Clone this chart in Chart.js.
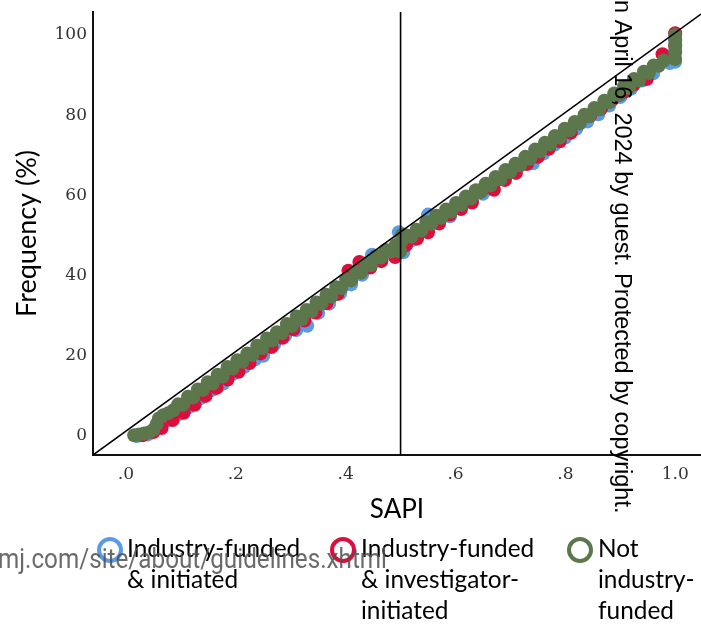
<!DOCTYPE html>
<html lang="en">
<head>
<meta charset="UTF-8">
<title>SAPI frequency</title>
<script src="https://cdn.jsdelivr.net/npm/chart.js"></script>
<style>
  html, body { margin: 0; padding: 0; background: #fff; }
  #wrap { position: relative; width: 701px; height: 624px; }
</style>
</head>
<body>
<div id="wrap"><canvas id="sapiChart"></canvas></div>

<script>
// series: industry-funded & initiated
const sapiIndustry = [0.02, 0.04, 0.06, 0.075, 0.095, 0.115, 0.135, 0.155, 0.177, 0.195, 0.215, 0.235, 0.25, 0.27, 0.29, 0.31, 0.33, 0.35, 0.37, 0.39, 0.41, 0.43, 0.448, 0.47, 0.497, 0.505, 0.52, 0.535, 0.55, 0.57, 0.59, 0.61, 0.63, 0.65, 0.668, 0.69, 0.71, 0.741, 0.76, 0.78, 0.8, 0.82, 0.84, 0.86, 0.88, 0.9, 0.92, 0.94, 0.96, 0.99, 1.0, 1.0, 1.0];
const freqIndustry = [0.0, 0.4, 2.4, 3.8, 5.4, 7.2, 9.4, 11.4, 13.1, 15.5, 17.2, 19.1, 20.0, 22.8, 25.0, 26.4, 27.5, 30.7, 33.0, 35.6, 37.8, 40.2, 45.2, 45.6, 50.8, 45.8, 48.8, 50.8, 55.2, 53.2, 54.8, 57.0, 58.7, 60.4, 61.8, 64.2, 66.0, 68.0, 70.4, 72.6, 74.4, 76.6, 78.4, 80.2, 82.4, 84.5, 86.6, 88.6, 90.4, 93.0, 93.3, 96.0, 98.6];

// series: industry-funded & investigator-initiated
const sapiInvestigator = [0.03, 0.05, 0.065, 0.085, 0.105, 0.125, 0.145, 0.165, 0.185, 0.205, 0.225, 0.245, 0.265, 0.285, 0.305, 0.325, 0.345, 0.365, 0.385, 0.405, 0.425, 0.445, 0.465, 0.49, 0.51, 0.53, 0.55, 0.57, 0.59, 0.61, 0.63, 0.65, 0.67, 0.69, 0.71, 0.73, 0.75, 0.77, 0.79, 0.81, 0.826, 0.845, 0.865, 0.885, 0.905, 0.925, 0.948, 0.977, 1.0, 1.0];
const freqInvestigator = [0.2, 1.0, 2.0, 4.0, 5.8, 7.8, 10.0, 12.0, 14.1, 16.0, 18.2, 20.6, 22.2, 24.5, 26.6, 28.8, 30.8, 33.1, 35.4, 41.2, 43.4, 42.0, 43.6, 44.6, 47.6, 49.2, 50.8, 53.0, 55.2, 56.6, 58.2, 61.6, 61.4, 63.8, 65.6, 67.8, 69.6, 71.6, 73.5, 75.6, 78.2, 79.8, 81.6, 83.8, 85.6, 87.7, 89.0, 95.2, 100.4, 97.5];

// series: not industry-funded
const sapiNotFunded = [0.015, 0.024, 0.033, 0.042, 0.05, 0.056, 0.06, 0.068, 0.077, 0.086, 0.095, 0.104, 0.113, 0.122, 0.131, 0.14, 0.149, 0.158, 0.167, 0.176, 0.185, 0.194, 0.203, 0.212, 0.221, 0.23, 0.239, 0.248, 0.257, 0.266, 0.275, 0.284, 0.293, 0.302, 0.311, 0.32, 0.329, 0.338, 0.347, 0.356, 0.365, 0.374, 0.383, 0.392, 0.401, 0.41, 0.419, 0.428, 0.437, 0.446, 0.455, 0.464, 0.473, 0.482, 0.491, 0.499, 0.501, 0.503, 0.511, 0.52, 0.529, 0.538, 0.547, 0.556, 0.565, 0.574, 0.583, 0.592, 0.601, 0.61, 0.619, 0.628, 0.637, 0.646, 0.655, 0.664, 0.673, 0.682, 0.691, 0.7, 0.709, 0.718, 0.727, 0.736, 0.745, 0.754, 0.763, 0.772, 0.781, 0.79, 0.799, 0.808, 0.817, 0.826, 0.835, 0.844, 0.853, 0.862, 0.871, 0.88, 0.889, 0.898, 0.907, 0.916, 0.925, 0.934, 0.943, 0.952, 0.961, 0.97, 0.979, 1.0, 1.0, 1.0, 1.0, 1.0];
const freqNotFunded = [0.2, 0.4, 0.6, 0.9, 1.6, 3.0, 4.4, 5.2, 5.7, 6.4, 7.9, 7.8, 9.8, 9.6, 11.6, 11.5, 13.4, 13.1, 15.3, 14.8, 17.2, 16.8, 18.9, 18.5, 20.6, 20.2, 22.5, 21.9, 24.3, 23.8, 25.9, 25.7, 27.9, 27.4, 29.8, 29.1, 31.4, 31.1, 33.3, 33.0, 35.2, 34.8, 37.1, 36.9, 39.1, 38.8, 41.0, 40.7, 43.0, 42.6, 44.8, 44.5, 46.4, 46.0, 47.6, 46.0, 48.4, 50.2, 50.0, 49.7, 51.4, 51.2, 53.3, 52.9, 54.9, 54.4, 56.5, 55.9, 58.1, 57.6, 59.7, 59.2, 61.3, 60.8, 62.9, 62.5, 64.6, 64.0, 66.3, 65.8, 67.9, 67.5, 69.6, 69.1, 71.4, 70.9, 73.1, 72.7, 74.8, 74.4, 76.6, 76.2, 78.3, 77.9, 80.1, 79.7, 81.8, 81.4, 83.6, 83.2, 85.4, 85.0, 87.2, 86.8, 89.0, 88.6, 90.8, 90.5, 92.4, 92.3, 93.6, 94.0, 95.6, 97.2, 98.8, 100.0];

// identity line (corner to corner) and the SAPI = 0.5 cut-off
const diagX = [-0.06, 1.047];
const diagY = [-4.73, 105.2];
const cutX = [0.5, 0.5];
const cutY = [-10, 110];

// axes
const xTicks = [0, 0.2, 0.4, 0.6, 0.8, 1.0];
const xTickLabels = ['.0', '.2', '.4', '.6', '.8', '1.0'];
const yTicks = [0, 20, 40, 60, 80, 100];

const seriesNames = [
  ['Industry-funded', '& initiated'],
  ['Industry-funded', '& investigator-', 'initiated'],
  ['Not', 'industry-', 'funded']
];
const seriesColors = ['#5a9be6', '#dc0f3c', '#5d774c'];

const FONT = 'Lato, "Noto Sans", sans-serif';

function toPoints(xs, ys) {
  return xs.map((x, i) => ({ x: x, y: ys[i] }));
}

function dotSet(label, xs, ys, color, order) {
  return {
    label: label,
    data: toPoints(xs, ys),
    backgroundColor: color,
    borderColor: color,
    borderWidth: 0,
    pointRadius: 7,
    pointHoverRadius: 7,
    order: order
  };
}

function refLine(xs, ys) {
  return {
    data: toPoints(xs, ys),
    showLine: true,
    borderColor: '#000',
    borderWidth: 1.6,
    pointRadius: 0,
    order: 0
  };
}

// legend and page text below / over the plot
const extras = {
  id: 'extras',
  afterDraw(chart) {
    const ctx = chart.ctx;
    ctx.save();

    // legend
    const ringX = [110, 343, 580];
    const textX = [127, 361, 598];
    ctx.font = '24px ' + FONT;
    const fit = 173 / ctx.measureText('Industry-funded').width;
    ctx.font = (24 * fit).toFixed(1) + 'px ' + FONT;
    ctx.textBaseline = 'alphabetic';
    ctx.textAlign = 'left';
    seriesNames.forEach((lines, i) => {
      ctx.beginPath();
      ctx.arc(ringX[i], 550, 11, 0, Math.PI * 2);
      ctx.lineWidth = 4;
      ctx.strokeStyle = seriesColors[i];
      ctx.stroke();
      ctx.fillStyle = '#000';
      lines.forEach((t, k) => ctx.fillText(t, textX[i], 557 + k * 31));
    });

    // grey site footer line
    const foot = 'mj.com/site/about/guidelines.xhtml';
    ctx.font = '28px Roboto, sans-serif';
    const sx = 389 / ctx.measureText(foot).width;
    ctx.save();
    ctx.translate(-2, 568);
    ctx.scale(sx, 1);
    ctx.fillStyle = 'rgba(80,80,80,0.85)';
    ctx.fillText(foot, 0, 0);
    ctx.restore();

    // vertical copyright line
    ctx.save();
    ctx.translate(615, -13);
    ctx.rotate(Math.PI / 2);
    ctx.font = '23.5px "Liberation Sans", Arial, sans-serif';
    ctx.fillStyle = '#000';
    ctx.fillText('on April 16, 2024 by guest. Protected by copyright.', 0, 0);
    ctx.restore();

    ctx.restore();
  }
};

const ctx = document.getElementById('sapiChart').getContext('2d');
const sapiChart = new Chart(ctx, {
  type: 'scatter',
  data: {
    datasets: [
      refLine(diagX, diagY),
      refLine(cutX, cutY),
      dotSet(seriesNames[0].join(' '), sapiIndustry, freqIndustry, seriesColors[0], 3),
      dotSet(seriesNames[1].join(' '), sapiInvestigator, freqInvestigator, seriesColors[1], 2),
      dotSet(seriesNames[2].join(' '), sapiNotFunded, freqNotFunded, seriesColors[2], 1)
    ]
  },
  options: {
    responsive: true,
    maintainAspectRatio: false,
    animation: false,
    events: [],
    layout: {
      autoPadding: false,
      padding: { top: 11, right: 0, bottom: 99, left: 0 }
    },
    plugins: {
      legend: { display: false },
      tooltip: { enabled: false }
    },
    scales: {
      x: {
        type: 'linear',
        min: -0.06,
        max: 1.047,
        afterFit: s => {
          s.height = 70;
          s.paddingLeft = 0;
          s.paddingRight = 0;
        },
        afterBuildTicks: s => { s.ticks = xTicks.map(v => ({ value: v })); },
        grid: { display: false, drawTicks: false },
        border: { display: true, color: '#111', width: 2 },
        ticks: {
          padding: 9,
          maxRotation: 0,
          color: '#333',
          font: { family: '"DejaVu Serif"', size: 17 },
          callback: v => xTickLabels[xTicks.indexOf(v)]
        },
        title: {
          display: true,
          text: 'SAPI',
          color: '#000',
          font: { family: FONT, size: 26 },
          padding: { top: 0, bottom: 0 }
        }
      },
      y: {
        type: 'linear',
        min: -4.73,
        max: 105.72,
        afterFit: s => { s.width = 93; },
        afterBuildTicks: s => { s.ticks = yTicks.map(v => ({ value: v })); },
        grid: { display: false, drawTicks: false },
        border: { display: true, color: '#111', width: 2 },
        ticks: {
          padding: 6,
          color: '#333',
          font: { family: '"DejaVu Serif"', size: 17, lineHeight: 0.7 }
        },
        title: {
          display: true,
          text: 'Frequency (%)',
          color: '#000',
          font: { family: FONT, size: 27 },
          padding: { top: 11, bottom: 0 }
        }
      }
    }
  },
  plugins: [extras]
});
</script>
</body>
</html>
